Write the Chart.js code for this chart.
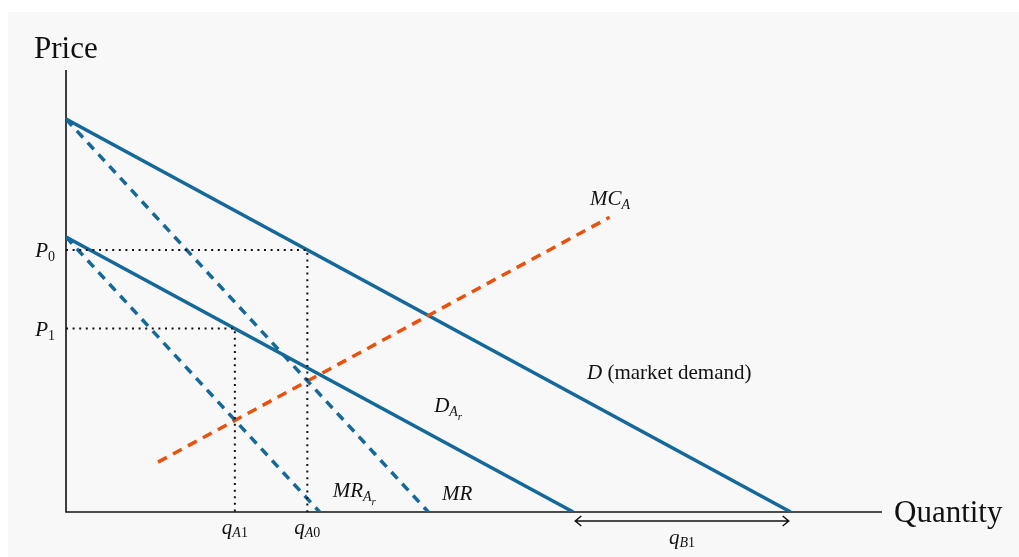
<!DOCTYPE html>
<html lang="en">
<head>
    <meta charset="UTF-8">
    <title>Regional demand and marginal revenue</title>
    <script src="https://cdn.jsdelivr.net/npm/chart.js"></script>
    <style>
        html, body { margin: 0; padding: 0; background: #ffffff; }
        #wrap { position: relative; width: 1019px; height: 557px; }
        #panel { position: absolute; left: 8px; top: 12px; right: 0; bottom: 0; background: #f8f8f8; }
        canvas { position: absolute; left: 0; top: 0; }
    </style>
</head>
<body>
<div id="wrap">
    <div id="panel"></div>
    <canvas id="econChart" width="1019" height="557"></canvas>
</div>

<script>
    // curves (quantity, price)
    const demandQ = [0, 10];      const demandP = [10, 0];
    const demandArQ = [0, 7];     const demandArP = [7, 0];
    const mrQ = [0, 5];           const mrP = [10, 0];
    const mrArQ = [0, 3.5];       const mrArP = [7, 0];
    const mcQ = [1.27, 7.5];      const mcP = [1.27, 7.5];

    // guide lines for the equilibria
    const p0Q = [0, 3.33, 3.33];  const p0P = [6.67, 6.67, 0];
    const p1Q = [0, 2.33, 2.33];  const p1P = [4.67, 4.67, 0];
    const qB1Range = [7, 10];

    const axisMax = 11.26;
    const priceMax = 11.25;

    const blue = '#15689a';
    const orange = '#e6520f';

    function pts(xs, ys) {
        return xs.map((x, i) => ({ x: x, y: ys[i] }));
    }

    function line(data, color, width, dash) {
        return {
            data: data,
            showLine: true,
            borderColor: color,
            borderWidth: width,
            borderDash: dash || [],
            borderCapStyle: 'butt',
            pointRadius: 0,
            fill: false,
            tension: 0
        };
    }

    // draws text pieces side by side, parts = [text, size, italic, drop]
    function drawMath(ctx, parts, x, y, align) {
        let total = 0;
        parts.forEach(p => {
            ctx.font = (p[2] ? 'italic ' : '') + p[1] + 'px "Liberation Serif", "DejaVu Serif", serif';
            total += ctx.measureText(p[0]).width;
        });
        let cx = x;
        if (align === 'right') cx = x - total;
        if (align === 'center') cx = x - total / 2;
        parts.forEach(p => {
            ctx.font = (p[2] ? 'italic ' : '') + p[1] + 'px "Liberation Serif", "DejaVu Serif", serif';
            ctx.fillText(p[0], cx, y + (p[3] || 0));
            cx += ctx.measureText(p[0]).width;
        });
    }

    const annotations = {
        id: 'annotations',
        beforeDatasetsDraw(chart) {
            const ctx = chart.ctx;
            const xs = chart.scales.x, ys = chart.scales.y;
            const x0 = xs.getPixelForValue(0), y0 = ys.getPixelForValue(0);
            ctx.save();
            ctx.strokeStyle = '#111';
            ctx.lineWidth = 1.6;
            ctx.beginPath();
            ctx.moveTo(x0, ys.getPixelForValue(priceMax));
            ctx.lineTo(x0, y0);
            ctx.lineTo(xs.getPixelForValue(axisMax), y0);
            ctx.stroke();
            ctx.restore();
        },
        afterDatasetsDraw(chart) {
            const ctx = chart.ctx;
            const xs = chart.scales.x, ys = chart.scales.y;
            const X = v => xs.getPixelForValue(v);
            const Y = v => ys.getPixelForValue(v);
            ctx.save();
            ctx.fillStyle = '#111';
            ctx.textBaseline = 'alphabetic';

            // axis titles
            ctx.font = '31px "Liberation Serif", serif';
            ctx.textAlign = 'left';
            ctx.fillText('Price', 34, Y(priceMax) - 12);
            ctx.fillText('Quantity', X(axisMax) + 12, Y(0) + 10);

            // price labels
            drawMath(ctx, [['P', 21, true], ['0', 14, false, 4]], X(0) - 11, Y(p0P[0]) + 7, 'right');
            drawMath(ctx, [['P', 21, true], ['1', 14, false, 4]], X(0) - 11, Y(p1P[0]) + 7, 'right');

            // quantity labels
            drawMath(ctx, [['q', 21, true], ['A', 14, true, 3], ['1', 14, false, 3]], X(p1Q[1]), Y(0) + 22, 'center');
            drawMath(ctx, [['q', 21, true], ['A', 14, true, 3], ['0', 14, false, 3]], X(p0Q[1]), Y(0) + 22, 'center');
            drawMath(ctx, [['q', 21, true], ['B', 14, true, 3], ['1', 14, false, 3]], X((qB1Range[0] + qB1Range[1]) / 2), Y(0) + 32, 'center');

            // curve labels
            drawMath(ctx, [['MC', 21, true], ['A', 14, true, 4]], X(7.23), Y(8.0) + 7, 'left');
            drawMath(ctx, [['D', 21, true], [' (market demand)', 21, false]], X(7.19), Y(3.56) + 7, 'left');
            drawMath(ctx, [['D', 21, true], ['A', 14, true, 4], ['r', 11, true, 8]], X(5.08), Y(2.72) + 7, 'left');
            drawMath(ctx, [['MR', 21, true], ['A', 14, true, 4], ['r', 11, true, 8]], X(3.68), Y(0.56) + 7, 'left');
            drawMath(ctx, [['MR', 21, true]], X(5.19), Y(0.48) + 7, 'left');

            // double arrow for q_B1
            const ay = Y(0) + 9;
            const ax1 = X(qB1Range[0]) + 2, ax2 = X(qB1Range[1]) - 2;
            ctx.strokeStyle = '#111';
            ctx.lineWidth = 1.5;
            ctx.beginPath();
            ctx.moveTo(ax1, ay);
            ctx.lineTo(ax2, ay);
            ctx.moveTo(ax1 + 6, ay - 5);
            ctx.lineTo(ax1, ay);
            ctx.lineTo(ax1 + 6, ay + 5);
            ctx.moveTo(ax2 - 6, ay - 5);
            ctx.lineTo(ax2, ay);
            ctx.lineTo(ax2 - 6, ay + 5);
            ctx.stroke();
            ctx.restore();
        }
    };

    const config = {
        type: 'scatter',
        data: {
            datasets: [
                line(pts(p0Q, p0P), '#111', 2, [2, 4.6]),
                line(pts(p1Q, p1P), '#111', 2, [2, 4.6]),
                line(pts(mrQ, mrP), blue, 3.5, [9, 7]),
                line(pts(mrArQ, mrArP), blue, 3.5, [9, 7]),
                line(pts(mcQ, mcP), orange, 3.5, [10, 7]),
                line(pts(demandQ, demandP), blue, 3.5),
                line(pts(demandArQ, demandArP), blue, 3.5)
            ]
        },
        options: {
            responsive: false,
            animation: false,
            layout: { padding: { left: 66, right: 137, top: 70, bottom: 45 } },
            plugins: {
                legend: { display: false },
                tooltip: { enabled: false }
            },
            scales: {
                x: { type: 'linear', min: 0, max: axisMax, display: false },
                y: { type: 'linear', min: 0, max: priceMax, display: false }
            }
        },
        plugins: [annotations]
    };

    new Chart(document.getElementById('econChart'), config);
</script>
</body>
</html>
